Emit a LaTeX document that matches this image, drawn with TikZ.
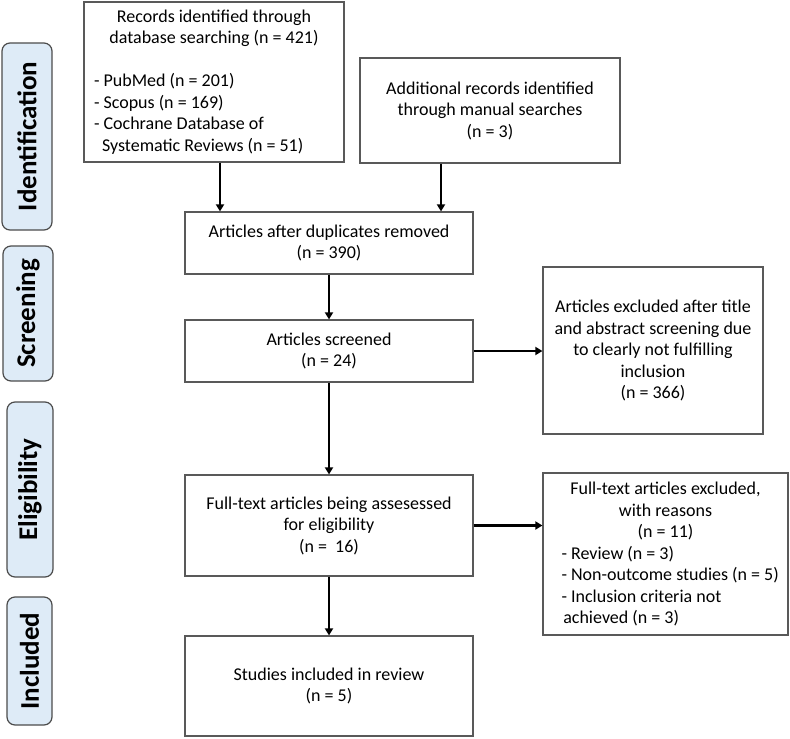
\documentclass[tikz,border=0pt]{standalone}
\usepackage{fontspec}
\setmainfont{Carlito}
\usetikzlibrary{arrows.meta}

\definecolor{phasefill}{RGB}{222,235,247}

\begin{document}
\begin{tikzpicture}[
            x = 1pt, y = -1pt, % work in pixels of the figure
            > = {Triangle[length=7pt, width=8pt]}, % arrow head style
            line width = 2.5pt % arrow line style
        ]

        \tikzstyle{box}=[
            draw = black!65,
            line width = 1.2pt,
            fill = white,
            inner sep = 0pt,
            align = center,
            font = \fontsize{18}{21.5}\selectfont
        ]
        \tikzstyle{listbox}=[
            box,
            align = flush left
        ]
        \tikzstyle{phase}=[
            draw = black!70,
            line width = 1.2pt,
            fill = phasefill,
            rounded corners = 8pt,
            rotate = 90,
            inner sep = 0pt,
            font = \bfseries\fontsize{27}{30}\selectfont
        ]

        \useasboundingbox (0,0) rectangle (790,739);

        % phases on the left
        \node[phase, minimum width=187, minimum height=50] (ident) at (27,136.5) {Identification};
        \node[phase, minimum width=135, minimum height=50] (screen) at (28,313.5) {Screening};
        \node[phase, minimum width=175, minimum height=46] (elig) at (30,489.5) {Eligibility};
        \node[phase, minimum width=128, minimum height=45] (incl) at (29.5,661) {Included};

        % flow boxes
        \node[listbox, minimum width=260, minimum height=160, text width=240] (rec) at (214,82)
            {{\centering Records identified through\\ database searching (n = 421)\par}
             \vspace{21.5pt}
             - PubMed (n = 201)\\
             - Scopus (n = 169)\\
             - Cochrane Database of\\
             \hspace*{0.45em}Systematic Reviews (n = 51)};
        \node[box, minimum width=260, minimum height=105] (add) at (490,110.5)
            {Additional records identified\\ through manual searches\\ (n = 3)};
        \node[box, minimum width=288, minimum height=62] (dup) at (329,243)
            {Articles after duplicates removed\\ (n = 390)};
        \node[box, minimum width=288, minimum height=62] (scr) at (329,351)
            {Articles screened\\ (n = 24)};
        \node[box, minimum width=220, minimum height=167] (excl) at (653,350.5)
            {Articles excluded after title\\ and abstract screening due\\ to clearly not fulfilling\\ inclusion\\ (n = 366)};
        \node[box, minimum width=288, minimum height=101] (full) at (329,525.5)
            {Full-text articles being assesessed\\ for eligibility\\ (n = \ 16)};
        \node[listbox, minimum width=245, minimum height=162, text width=208] (fexcl) at (665.5,554)
            {{\centering Full-text articles excluded,\\ with reasons\\ (n = 11)\par}
             - Review (n = 3)\\
             \mbox{- Non-outcome studies (n = 5)}\\
             - Inclusion criteria not\\
             \hspace*{0.1em}achieved (n = 3)};
        \node[box, minimum width=288, minimum height=100] (stud) at (329,686)
            {Studies included in review\\ (n = 5)};

        \draw[->] ([xshift=6pt]rec.south) -- ([xshift=6pt]rec.south |- dup.north);
        \draw[->] ([xshift=-49pt]add.south) -- ([xshift=-49pt]add.south |- dup.north);
        \draw[->] (dup) -- (scr);
        \draw[->] (scr.east) -- (scr.east -| excl.west);
        \draw[->] (scr) -- (full);
        \draw[->] (full.east) -- (full.east -| fexcl.west);
        \draw[->] (full) -- (stud);

    \end{tikzpicture}
\end{document}
